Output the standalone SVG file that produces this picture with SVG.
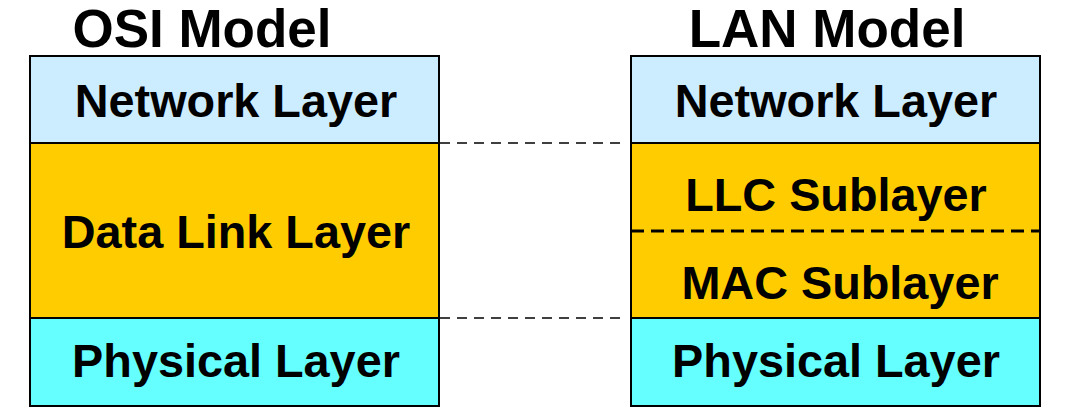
<svg xmlns="http://www.w3.org/2000/svg" width="1067" height="413" viewBox="0 0 1067 413">
<style>
.t{font-family:"Liberation Sans",Arial,sans-serif;font-weight:bold;fill:#000;text-anchor:middle}
.h{font-size:46.8px}
.ttl{font-size:53px}
.box{stroke:#000;stroke-width:2}
.net{fill:#CCECFF}
.dl{fill:#FFCC00}
.ph{fill:#66FFFF}
.conn{stroke:#000;stroke-width:1.5;stroke-dasharray:10 7;fill:none}
</style>
<rect width="1067" height="413" fill="#fff"/>
<text class="t ttl" x="202" y="47">OSI Model</text>
<text class="t ttl" x="827" y="47">LAN Model</text>
<g id="osi-network"><rect class="box net" x="30" y="56" width="409" height="87"/><text class="t h" x="236" y="117">Network Layer</text></g>
<g id="osi-datalink"><rect class="box dl" x="30" y="143" width="409" height="175"/><text class="t h" x="236" y="248">Data Link Layer</text></g>
<g id="osi-physical"><rect class="box ph" x="30" y="318" width="409" height="88"/><text class="t h" x="236" y="377">Physical Layer</text></g>
<g id="lan-network"><rect class="box net" x="631" y="56" width="409" height="87"/><text class="t h" x="836" y="117">Network Layer</text></g>
<g id="lan-datalink"><rect class="box dl" x="631" y="143" width="409" height="175"/>
<line x1="631" y1="231" x2="1040" y2="231" stroke="#000" stroke-width="3" stroke-dasharray="13 7"/>
<text class="t h" x="836" y="211">LLC Sublayer</text><text class="t h" x="840" y="299">MAC Sublayer</text></g>
<g id="lan-physical"><rect class="box ph" x="631" y="318" width="409" height="88"/><text class="t h" x="836" y="377">Physical Layer</text></g>
<g id="connectors">
<line class="conn" x1="440" y1="143" x2="620" y2="143"/>
<line class="conn" x1="440" y1="318" x2="620" y2="318"/>
</g>
</svg>
